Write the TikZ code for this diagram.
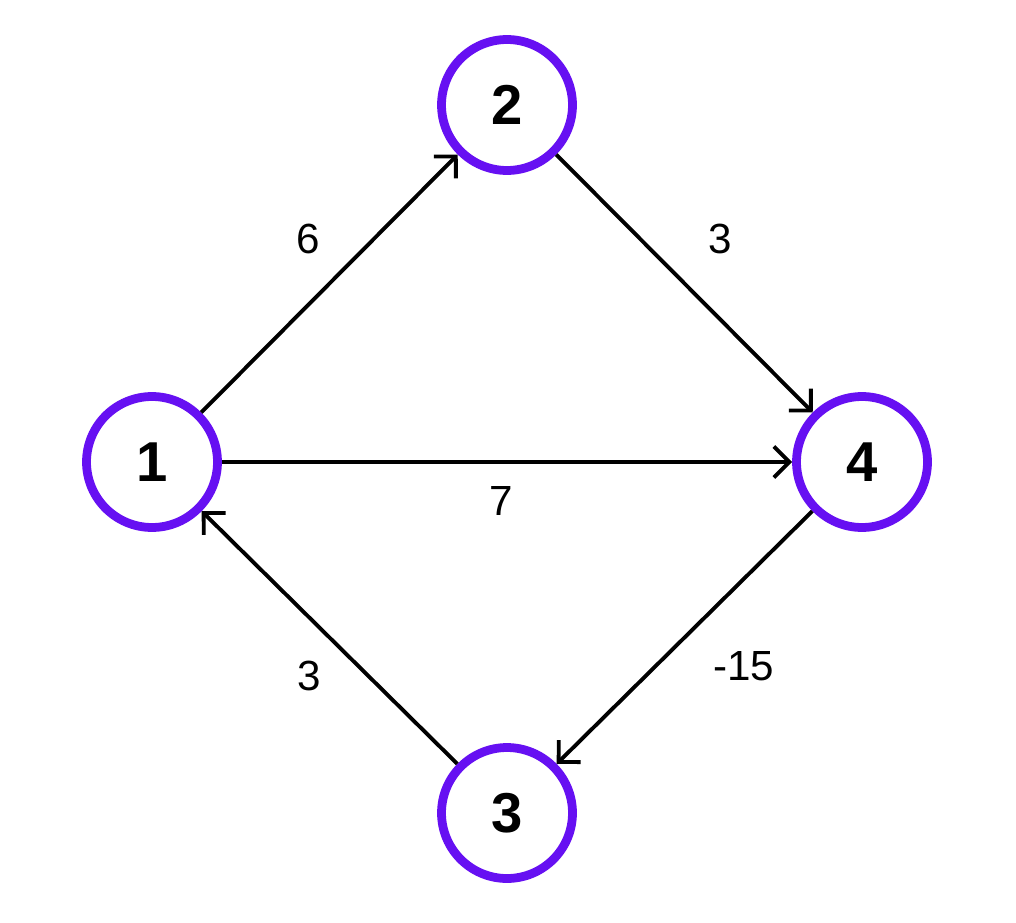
\documentclass[tikz,border=0pt]{standalone}
\usepackage{fontspec}
\setmainfont{Liberation Sans}
\usetikzlibrary{arrows.meta}
\definecolor{vertexpurple}{RGB}{102,16,242}

\begin{document}
\begin{tikzpicture}[x=0.02cm, y=-0.02cm,
  vertex/.style={draw=vertexpurple, circle, line width=5pt, minimum size=2.62cm, inner sep=0pt,
    font=\fontsize{32}{32}\selectfont\bfseries},
  edge/.style={line width=2.2pt, -{Straight Barb[length=3.1mm, width=6.2mm]}},
  weight/.style={inner sep=0pt, font=\fontsize{24}{24}\selectfont}]
  \useasboundingbox (0,0) rectangle (1016,922);

  \node[vertex] (v1) at (152,462) {1};
  \node[vertex] (v2) at (507,105) {2};
  \node[vertex] (v3) at (507,813) {3};
  \node[vertex] (v4) at (862,462) {4};

  \draw[edge] (v1) to node[weight, pos=0.54, above left=10pt] {6} (v2);
  \draw[edge] (v2) to node[weight, pos=0.49, above right=14pt] {3} (v4);
  \draw[edge] (v1) to node[weight, pos=0.49, below=13pt] {7} (v4);
  \draw[edge] (v4) to node[weight, pos=0.47, below right=11pt] {-15} (v3);
  \draw[edge] (v3) to node[weight, pos=0.47, below left=8pt] {3} (v1);
\end{tikzpicture}
\end{document}
